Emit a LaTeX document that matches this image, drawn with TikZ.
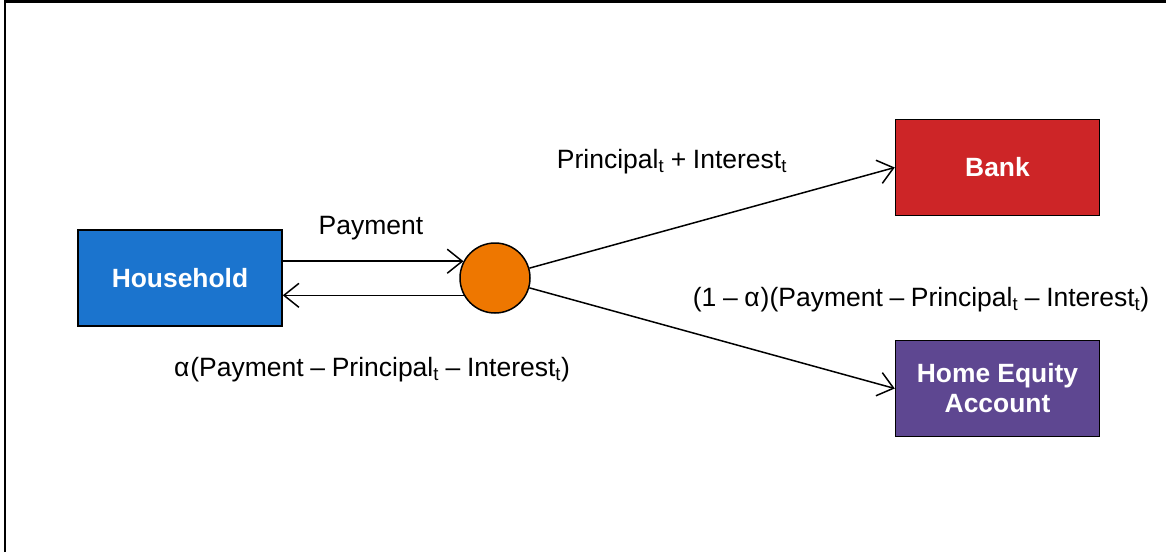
\documentclass[tikz,border=0pt]{standalone}
\usepackage{fontspec}
\setmainfont{Liberation Sans}
\usetikzlibrary{arrows.meta}
\definecolor{hhblue}{HTML}{1B74CE}
\definecolor{bankred}{HTML}{CD2527}
\definecolor{heqpurple}{HTML}{5E4791}
\definecolor{circorange}{HTML}{EE7700}
\newcommand{\dsp}{\hspace{0.25em}}
\tikzset{
  box/.style={draw=black, line width=1.5pt, minimum width=204pt, minimum height=96pt, inner sep=0pt,
    text=white, font=\fontsize{26.4}{30}\selectfont\bfseries, align=center},
  flow/.style={draw=black, line width=1.5pt, -{Straight Barb[length=15pt,width=24pt,line width=1.5pt]}},
  lbl/.style={font=\fontsize{26.5}{30}\selectfont, inner sep=0pt},
}
\begin{document}
\begin{tikzpicture}[x=1pt,y=-1pt]
\useasboundingbox (0,0) rectangle (1166,552);
\draw[line width=2.5pt] (5,552) -- (5,1.5) -- (1166,1.5);
\node[box, fill=hhblue] (hh) at (180,278) {Household};
\node[box, fill=bankred] (bank) at (997.5,167.5) {Bank};
\node[box, fill=heqpurple] (heq) at (997.5,388.5) {Home Equity\\Account};
\node[circle, draw=black, line width=1.5pt, fill=circorange, minimum size=70pt, inner sep=0pt] (c) at (495,278) {};
\draw[flow] (hh.east |- c.152.8) -- (c.152.8);
\draw[flow] (c.209) -- (hh.east |- c.209);
\draw[flow] (c.16) -- (bank.west);
\draw[flow] (c.-16) -- (heq.west);
\node[lbl] (lpay) at (371,228) {Payment};
\node[lbl] (lbank) at (672,162) {Principal\textsubscript{t}\dsp+\dsp Interest\textsubscript{t}};
\node[lbl] (lheq) at (921,300) {(1\dsp–\dsp α\kern1pt)(Payment\dsp–\dsp Principal\textsubscript{t}\dsp–\dsp Interest\textsubscript{t})};
\node[lbl] (lhh) at (372,370) {α\kern1pt(Payment\dsp–\dsp Principal\textsubscript{t}\dsp–\dsp Interest\textsubscript{t})};
\end{tikzpicture}
\end{document}
